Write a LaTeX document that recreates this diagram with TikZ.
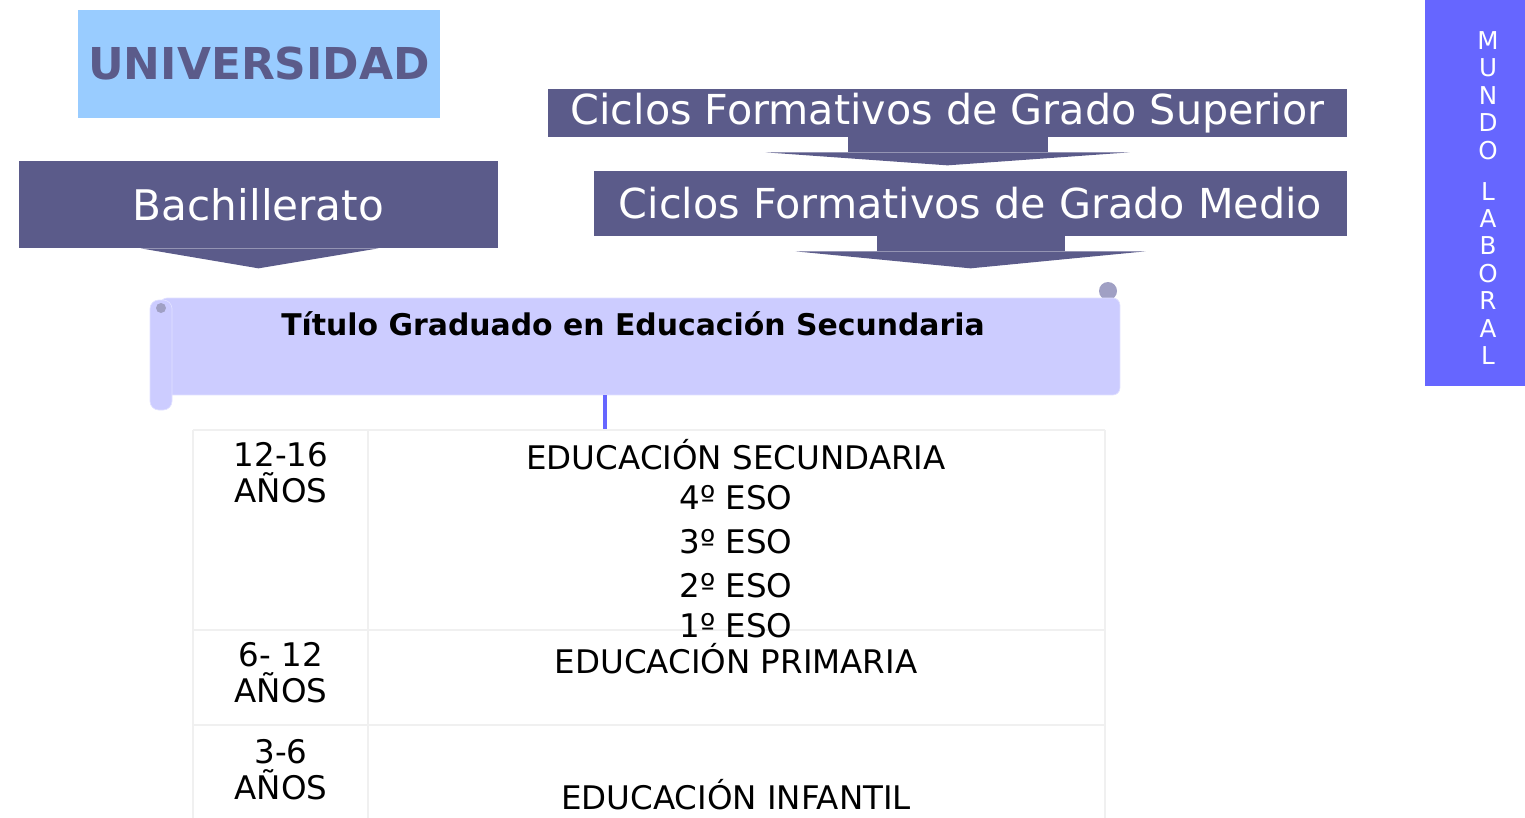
\documentclass[tikz,border=0pt]{standalone}
\usepackage{fontspec}
\setmainfont{DejaVu Sans}
\usetikzlibrary{calc}
\definecolor{slatebox}{RGB}{91,91,138}
\definecolor{skybox}{RGB}{153,204,255}
\definecolor{scrollfill}{RGB}{204,204,255}
\definecolor{scrolledge}{RGB}{225,225,255}
\definecolor{curlgrey}{RGB}{160,160,196}
\definecolor{workblue}{RGB}{102,102,255}
\definecolor{gridgrey}{RGB}{240,240,240}

\begin{document}
\begin{tikzpicture}[x=0.02cm,y=-0.02cm,
    slate/.style={fill=slatebox, text=white, inner sep=0pt},
    stagetext/.style={font=\fontsize{18.5}{20.4}\selectfont, inner sep=1pt},
    gridline/.style={draw=gridgrey, line width=0.6pt}]
    \useasboundingbox (0,0) rectangle (1525,818);

    \node [fill=skybox, text=slatebox, inner sep=0pt, minimum width=7.24cm, minimum height=2.16cm,
           font=\fontsize{25}{27}\selectfont\bfseries] (uni) at (259,64) {UNIVERSIDAD};
    \node [slate, minimum width=9.58cm, minimum height=1.74cm, font=\fontsize{24}{26}\selectfont] (bach) at (258.5,204.5) {Bachillerato};
    \node [slate, minimum width=15.98cm, minimum height=0.96cm, font=\fontsize{23.5}{26}\selectfont] (cfgs) at (947.5,113) {Ciclos Formativos de Grado Superior};
    \node [slate, minimum width=15.06cm, minimum height=1.30cm, font=\fontsize{23.5}{26}\selectfont] (cfgm) at (970.5,203.5) {Ciclos Formativos de Grado Medio};

    \fill [slatebox] ($(bach.south)+(-118,0)$) -- ($(bach.south)+(120,0)$) -- ($(bach.south)+(0,20)$) -- cycle;
    \fill [slatebox] ($(cfgs.south)+(-100,0)$) rectangle ($(cfgs.south)+(100,15)$);
    \fill [slatebox] ($(cfgs.south)+(-182,15)$) -- ($(cfgs.south)+(182,15)$) -- ($(cfgs.south)+(0,28)$) -- cycle;
    \fill [slatebox] ($(cfgm.south)+(-94,0)$) rectangle ($(cfgm.south)+(94,15)$);
    \fill [slatebox] ($(cfgm.south)+(-175,15)$) -- ($(cfgm.south)+(175,15)$) -- ($(cfgm.south)+(0,32)$) -- cycle;

    \node [fill=workblue, text=white, inner sep=0pt, minimum width=2cm, minimum height=7.72cm] (mundo) at (1475,193) {};
    \node [text=white, align=center, font=\fontsize{14}{15.6}\selectfont] (mundotext) at (1488,198)
        {M\\U\\N\\D\\O\\[7.7pt]L\\A\\B\\O\\R\\A\\L};

    \fill [curlgrey] (1108,291) circle (9);
    \node [fill=scrollfill, draw=scrolledge, rounded corners=4pt, minimum width=19.2cm, minimum height=1.94cm] (scrollbody) at (640,346.5) {};
    \draw [fill=scrollfill, draw=scrolledge, rounded corners=5pt] (150,300) rectangle (172,410);
    \fill [curlgrey] (161,308) circle (5);
    \node [font=\fontsize{17}{19}\selectfont\bfseries] (titulo) at (633,324) {Título Graduado en Educación Secundaria};

    \coordinate (tabletop) at (605,429);
    \draw [workblue, line width=2.6pt] (tabletop |- scrollbody.south) -- (tabletop);

    \draw [gridline] (193,430) -- (1105,430);
    \draw [gridline] (193,430) -- (193,818);
    \draw [gridline] (368,430) -- (368,818);
    \draw [gridline] (1105,430) -- (1105,818);
    \draw [gridline] (193,630) -- (1105,630);
    \draw [gridline] (193,725) -- (1105,725);

    \node [stagetext, align=center] (age1) at (281,473) {12-16\\AÑOS};
    \node [stagetext, align=center] (age2) at (281,673) {6- 12\\AÑOS};
    \node [stagetext, align=center] (age3) at (281,770) {3-6\\AÑOS};

    \node [stagetext] (secundaria) at (736,455) {EDUCACIÓN SECUNDARIA};
    \node [stagetext] (eso4) at (736,498) {4º ESO};
    \node [stagetext] (eso3) at (736,542) {3º ESO};
    \node [stagetext] (eso2) at (736,586) {2º ESO};
    \node [stagetext] (eso1) at (736,626) {1º ESO};
    \node [stagetext] (primaria) at (736,659) {EDUCACIÓN PRIMARIA};
    \node [stagetext] (infantil) at (736,795) {EDUCACIÓN INFANTIL};
\end{tikzpicture}
\end{document}
